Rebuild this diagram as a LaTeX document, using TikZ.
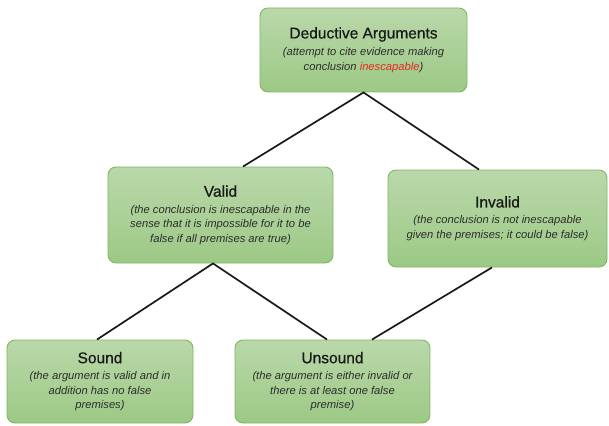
\documentclass[tikz,border=0pt]{standalone}
\usepackage{fontspec}
\setmainfont{Liberation Sans}
\newfontfamily\titlefont[FakeBold=0.6]{Liberation Sans}
\definecolor{boxtop}{RGB}{186,216,170}
\definecolor{boxbot}{RGB}{156,201,133}
\definecolor{boxedge}{RGB}{128,182,98}
\definecolor{desctext}{RGB}{45,45,45}
\definecolor{hilite}{RGB}{232,40,35}
\newcommand{\boxtitle}[1]{{\titlefont\upshape\fontsize{15.5}{18}\selectfont\color{black!90}#1}}
\tikzset{
  argbox/.style={rectangle, rounded corners=8pt, draw=boxedge, line width=0.9pt,
    top color=boxtop, bottom color=boxbot, align=center, inner sep=0pt,
    font=\fontsize{11.2}{14.5}\selectfont\itshape, text=desctext},
  link/.style={draw=black!90, line width=1.7pt}
}
\begin{document}
\begin{tikzpicture}[x=1pt,y=-1pt]
\useasboundingbox (0,0) rectangle (609,425);

% argument classes
\node[argbox, minimum width=207pt, minimum height=84pt] (ded) at (363.5,50)
  {\boxtitle{Deductive Arguments}\\[3pt]
   (attempt to cite evidence making\\
   conclusion {\color{hilite}inescapable})};

\node[argbox, minimum width=225pt, minimum height=96pt] (valid) at (220.5,215)
  {\boxtitle{Valid}\\[2pt]
   (the conclusion is inescapable in the\\
   sense that it is impossible for it to be\\
   false if all premises are true)};

\node[argbox, minimum width=219pt, minimum height=97pt] (invalid) at (497.5,218.5)
  {\boxtitle{Invalid}\\[2pt]
   (the conclusion is not inescapable\\
   given the premises; it could be false)};

\node[argbox, minimum width=186pt, minimum height=83pt] (sound) at (100,381.5)
  {\boxtitle{Sound}\\[2pt]
   (the argument is valid and in\\
   addition has no false\\
   premises)};

\node[argbox, minimum width=195pt, minimum height=83pt] (unsound) at (332.5,381.5)
  {\boxtitle{Unsound}\\[2pt]
   (the argument is either invalid or\\
   there is at least one false\\
   premise)};

% tree connectors
\draw[link] ([xshift=22.5pt]valid.north) -- (ded.south) -- ([xshift=-18.5pt]invalid.north);
\draw[link] ([xshift=-3pt]sound.north) -- ([xshift=-7.5pt]valid.south) -- ([xshift=-5.5pt]unsound.north);
\draw[link] ([xshift=-5.5pt]invalid.south) -- ([xshift=39.5pt]unsound.north);
\end{tikzpicture}
\end{document}
